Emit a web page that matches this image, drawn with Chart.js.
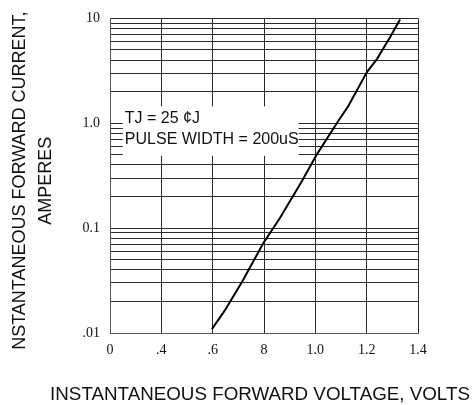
<!DOCTYPE html>
<html>
<head>
<meta charset="utf-8">
<script src="https://cdn.jsdelivr.net/npm/chart.js@4"></script>
<style>
  html, body { margin: 0; padding: 0; background: #fff; }
  #wrap { width: 473px; height: 405px; }
</style>
</head>
<body>
<div id="wrap"><canvas id="ifv"></canvas></div>
<script>
// forward voltage (V) vs instantaneous current (A)
let VOLTS = [0.597, 0.648, 0.718, 0.796, 0.862, 0.948, 1.006, 1.088, 1.127, 1.201, 1.240, 1.291, 1.330];
let AMPS  = [0.0109, 0.0165, 0.0318, 0.0711, 0.125, 0.281, 0.505, 1.04, 1.44, 3.08, 4.09, 6.61, 9.77];

// tick labels exactly as printed on the original sheet
let X_TICKS = [0.2, 0.4, 0.6, 0.8, 1.0, 1.2, 1.4];
let X_LABELS = ["0", ".4", ".6", "8", "1.0", "1.2", "1.4"];
let Y_DECADES = [0.01, 0.1, 1, 10];
let Y_LABELS = [".01", "0.1", "1.0", "10"];

let X_TITLE = "INSTANTANEOUS FORWARD VOLTAGE, VOLTS";
let Y_TITLE = ["NSTANTANEOUS FORWARD CURRENT,", "AMPERES"];
let NOTE = ["TJ = 25 \u00a2J", "PULSE WIDTH = 200uS"];

const SANS = '"Liberation Sans", Arial, sans-serif';
const SERIF = '"Liberation Serif", "Times New Roman", serif';
const GRID = '#2a2a2a';

// white label box sitting on top of the grid
const notePlugin = {
  id: 'note',
  beforeDatasetsDraw(chart) {
    const {ctx, scales: {x, y}} = chart;
    const left = x.getPixelForValue(0.25), right = x.getPixelForValue(0.935);
    const top = y.getPixelForValue(1.45), bottom = y.getPixelForValue(0.49);
    ctx.save();
    ctx.fillStyle = '#fff';
    ctx.fillRect(left, top, right - left, bottom - top);
    ctx.fillStyle = '#111';
    ctx.font = '16px ' + SANS;
    ctx.textBaseline = 'middle';
    ctx.fillText(NOTE[0], left + 2, top + 12);
    ctx.fillText(NOTE[1], left + 2, top + 33);
    ctx.restore();
  }
};

// axis titles are wider than the plot, so draw them outside the scale boxes
const titlePlugin = {
  id: 'titles',
  afterDraw(chart) {
    const {ctx, chartArea} = chart;
    ctx.save();
    ctx.fillStyle = '#111';
    ctx.textAlign = 'center';
    ctx.textBaseline = 'middle';
    ctx.font = '18.8px ' + SANS;
    ctx.fillText(X_TITLE, chartArea.left + 150, 395);
    ctx.font = '18px ' + SANS;
    ctx.translate(0, (chartArea.top + chartArea.bottom) / 2 + 5);
    ctx.rotate(-Math.PI / 2);
    ctx.fillText(Y_TITLE[0], 0, 20);
    ctx.fillText(Y_TITLE[1], 0, 46);
    ctx.restore();
  }
};

function yLabel(v) {
  for (let i = 0; i < Y_DECADES.length; i++) {
    if (Math.abs(Math.log10(v) - Math.log10(Y_DECADES[i])) < 1e-6) return Y_LABELS[i];
  }
  return '';
}

new Chart(document.getElementById('ifv'), {
  type: 'line',
  data: {
    datasets: [{
      data: VOLTS.map((v, i) => ({x: v, y: AMPS[i]})),
      borderColor: '#000',
      borderWidth: 2,
      pointRadius: 0,
      tension: 0,
      fill: false
    }]
  },
  options: {
    responsive: true,
    maintainAspectRatio: false,
    animation: false,
    layout: {padding: {top: 17, right: 55, bottom: 0, left: 0}},
    plugins: {legend: {display: false}, tooltip: {enabled: false}},
    scales: {
      x: {
        type: 'linear',
        min: 0.2,
        max: 1.4,
        afterBuildTicks: s => { s.ticks = X_TICKS.map(v => ({value: v})); },
        afterFit: s => { s.height = 72; },
        grid: {color: GRID, lineWidth: 1, drawTicks: false},
        border: {color: '#555', width: 1},
        ticks: {
          autoSkip: false,
          maxRotation: 0,
          padding: 9,
          color: '#111',
          font: {family: SERIF, size: 14},
          callback: (v, i) => X_LABELS[i]
        }
      },
      y: {
        type: 'logarithmic',
        min: 0.01,
        max: 10,
        afterBuildTicks: s => {
          const t = [];
          for (let d = 0; d < Y_DECADES.length - 1; d++) {
            for (let k = 1; k < 10; k++) t.push({value: +(Y_DECADES[d] * k).toPrecision(6)});
          }
          t.push({value: Y_DECADES[Y_DECADES.length - 1]});
          s.ticks = t;
        },
        afterFit: s => { s.width = 110; },
        grid: {color: GRID, lineWidth: 1, drawTicks: false},
        border: {color: '#555', width: 1},
        ticks: {
          autoSkip: false,
          padding: 10,
          color: '#111',
          font: {family: SERIF, size: 14},
          callback: v => yLabel(v)
        }
      }
    }
  },
  plugins: [notePlugin, titlePlugin]
});
</script>
</body>
</html>
